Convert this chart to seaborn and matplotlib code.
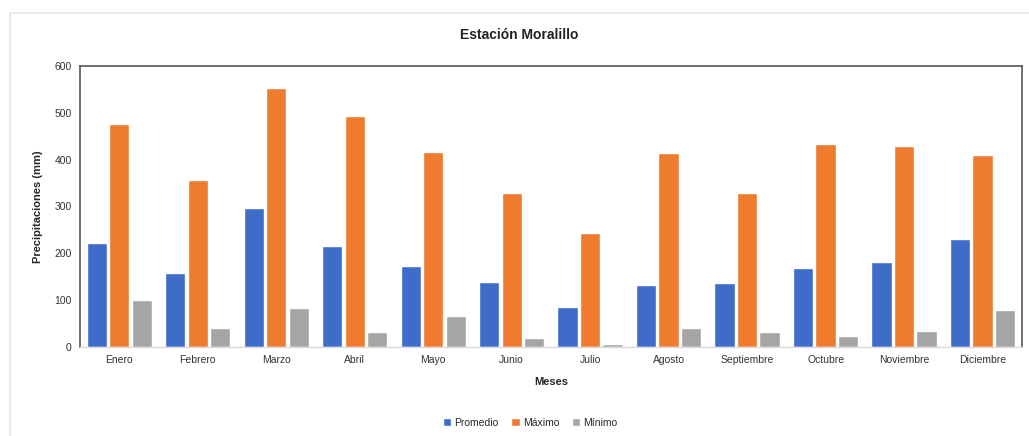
import matplotlib
matplotlib.use("Agg")
import matplotlib.pyplot as plt
import seaborn as sns
import pandas as pd
from matplotlib.patches import Rectangle

meses = ["Enero", "Febrero", "Marzo", "Abril", "Mayo", "Junio", "Julio",
         "Agosto", "Septiembre", "Octubre", "Noviembre", "Diciembre"]
promedio = [222, 158, 297, 216, 173, 139, 85, 132, 137, 169, 182, 231]
maximo = [476, 357, 553, 493, 416, 329, 244, 415, 329, 434, 430, 410]
minimo = [100, 40, 83, 32, 66, 19, 6, 40, 32, 23, 34, 79]
series = ["Promedio", "Máximo", "Mínimo"]
colores = ["#3f6cc9", "#ef7b2f", "#a5a5a5"]

df = pd.DataFrame({
    "Meses": meses * 3,
    "valor": promedio + maximo + minimo,
    "serie": [s for s in series for _ in meses],
})

sns.set_theme(style="white")
plt.rcParams["font.family"] = ["Liberation Sans", "DejaVu Sans"]

fig = plt.figure(figsize=(10.29, 4.36), dpi=100)
ax = fig.add_axes([0.0777, 0.204, 0.9153, 0.645])

sns.barplot(data=df, x="Meses", y="valor", hue="serie", order=meses,
            hue_order=series, palette=colores, width=0.86, gap=0.1,
            saturation=1, ax=ax, legend=True)

ax.set_ylim(0, 600)
ax.set_yticks(range(0, 601, 100))
ax.set_xlim(-0.5, len(meses) - 0.5)
ax.tick_params(axis="both", labelsize=7.5, colors="#333333", length=0, pad=6)
ax.set_xlabel("Meses", fontsize=8, fontweight="bold", labelpad=8)
ax.set_ylabel("Precipitaciones (mm)", fontsize=8, fontweight="bold", labelpad=8)

for side in ["left", "top", "right"]:
    ax.spines[side].set_visible(True)
    ax.spines[side].set_color("#555555")
    ax.spines[side].set_linewidth(1.2)
ax.spines["bottom"].set_color("#d9d9d9")
ax.spines["bottom"].set_linewidth(1.0)

fig.text(0.505, 0.92, "Estación Moralillo", ha="center", va="center",
         fontsize=10, fontweight="bold", color="#222222")

ax.legend(loc="center", bbox_to_anchor=(0.478, -0.27), ncol=3,
          frameon=False, fontsize=7.5, handlelength=0.8,
          handleheight=0.8, handletextpad=0.3, columnspacing=1.2)

# light outer chart border
fig.add_artist(Rectangle((0.01, -0.05), 1.2, 1.02, transform=fig.transFigure,
                         fill=False, edgecolor="#e6e6e6", linewidth=1.2))

fig.savefig("out.png", dpi=100, facecolor="white")
